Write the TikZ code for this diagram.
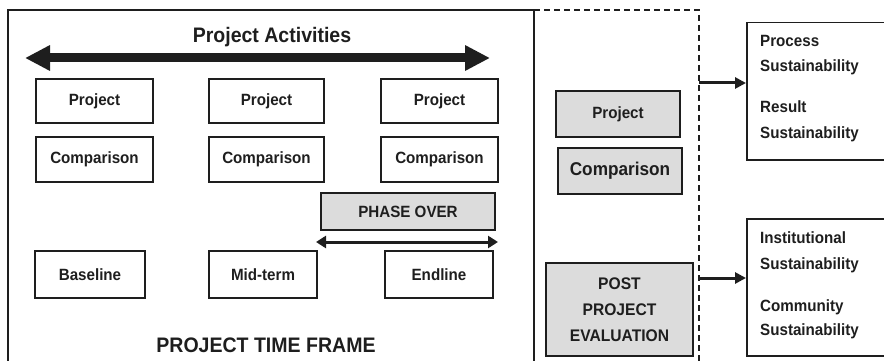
\documentclass[tikz,border=0pt]{standalone}
\usepackage{fontspec}
\setmainfont[FakeStretch=0.93]{Liberation Sans}
\usetikzlibrary{arrows.meta}
\definecolor{boxgray}{RGB}{220,220,220}
\definecolor{ink}{RGB}{30,30,30}
\begin{document}
\begin{tikzpicture}[x=1pt,y=-1pt,
  every node/.style={font=\fontsize{16.3}{18}\selectfont\bfseries, text=ink},
  thinbox/.style={draw=ink, line width=1.5pt, rectangle, inner sep=0pt},
  milestone/.style={draw=ink, line width=2.8pt, rectangle, inner sep=0pt},
  graybox/.style={draw=ink, fill=boxgray, line width=1.6pt, rectangle, inner sep=0pt},
  bigtext/.style={font=\fontsize{21}{24}\selectfont\bfseries},
  sidetext/.style={anchor=base west, inner sep=0pt},
  link/.style={line width=3pt, draw=ink, -{Triangle[length=11pt,width=11pt]}}
]
\useasboundingbox (0,0) rectangle (884,361);

% project time frame and the post-project region
\draw[line width=2.5pt, ink] (8,375) -- (8,10) -- (534,10) -- (534,375);
\coordinate (dtop) at (699,10);
\coordinate (dbot) at (699,375);
\draw[line width=2.5pt, ink, dash pattern=on 6pt off 4pt] (534,10) -- (dtop) -- (dbot);

% activities
\node[bigtext] (title) at (272,37) {Project Activities};
\coordinate (aL) at (25,58);
\coordinate (aR) at (490,58);
\draw[line width=9pt, ink, {Triangle[length=25pt,width=24pt]}-{Triangle[length=25pt,width=24pt]}] (aL) -- (aR);

\node[thinbox, minimum width=117pt, minimum height=44pt] (p1) at (94.5,101) {Project};
\node[thinbox, minimum width=115pt, minimum height=44pt] (p2) at (266.5,101) {Project};
\node[thinbox, minimum width=117pt, minimum height=44pt] (p3) at (439.5,101) {Project};
\node[thinbox, minimum width=117pt, minimum height=45pt] (c1) at (94.5,159.5) {Comparison};
\node[thinbox, minimum width=115pt, minimum height=45pt] (c2) at (266.5,159.5) {Comparison};
\node[thinbox, minimum width=117pt, minimum height=45pt] (c3) at (439.5,159.5) {Comparison};

\node[graybox, minimum width=174pt, minimum height=37pt] (phase) at (408,211.5) {PHASE OVER};
\coordinate (phL) at (316,242);
\coordinate (phR) at (498,242);
\draw[line width=3pt, ink, {Triangle[length=10pt,width=12pt]}-{Triangle[length=10pt,width=12pt]}] (phL) -- (phR);

\node[milestone, minimum width=110pt, minimum height=47pt] (base) at (90,274.5) {Baseline};
\node[milestone, minimum width=108pt, minimum height=47pt] (mid) at (263,274.5) {Mid-term};
\node[milestone, minimum width=108pt, minimum height=47pt] (end) at (439,274.5) {Endline};

\node[bigtext] (frame) at (266,345) {PROJECT TIME FRAME};

% after the project
\node[graybox, minimum width=124pt, minimum height=46pt] (gp) at (618,114) {Project};
\node[graybox, minimum width=124pt, minimum height=46pt,
      font=\fontsize{18.5}{20}\selectfont\bfseries] (gc) at (620,171) {Comparison};
\node[graybox, minimum width=147pt, minimum height=93pt, align=center,
      font=\fontsize{16.8}{26}\selectfont\bfseries] (post) at (619.5,309.5) {POST\\PROJECT\\EVALUATION};

% sustainability outcomes
\node[thinbox, anchor=north west, minimum width=160pt, minimum height=137pt] (sus1) at (746,22) {};
\node[thinbox, anchor=north west, minimum width=160pt, minimum height=137pt] (sus2) at (746,218) {};
\node[sidetext] (s1a) at (760,46.5) {Process};
\node[sidetext] (s1b) at (760,71.5) {Sustainability};
\node[sidetext] (s1c) at (760,112.5) {Result};
\node[sidetext] (s1d) at (760,138.5) {Sustainability};
\node[sidetext] (s2a) at (760,243.5) {Institutional};
\node[sidetext] (s2b) at (760,269.5) {Sustainability};
\node[sidetext] (s2c) at (760,311.5) {Community};
\node[sidetext] (s2d) at (760,335.5) {Sustainability};

\coordinate (k1) at (699,83);
\coordinate (k2) at (699,278);
\draw[link] (k1) -- (k1 -| sus1.west);
\draw[link] (k2) -- (k2 -| sus2.west);
\end{tikzpicture}
\end{document}
